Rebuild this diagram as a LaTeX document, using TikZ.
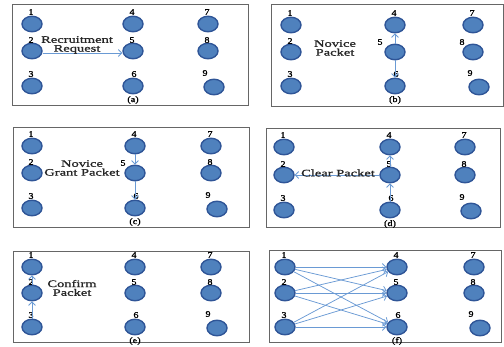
\documentclass[tikz,border=0pt]{standalone}
\usepackage{fontspec}
\setmainfont{Liberation Serif}
\newfontfamily\lf{Liberation Serif}[FakeStretch=1.45,FakeBold=1.2]
\newfontfamily\nf{Liberation Serif}[FakeStretch=1.2,FakeBold=1.2]
\usetikzlibrary{shapes.geometric,arrows.meta}
\definecolor{dotfill}{HTML}{4F81BD}
\definecolor{dotdraw}{HTML}{2F5597}
\definecolor{arr}{HTML}{6A9AD4}
\definecolor{frm}{gray}{0.4}
\tikzset{
  dotnode/.style={ellipse, fill=dotfill, draw=dotdraw, line width=1.4pt,
    minimum width=20pt, minimum height=15.5pt, inner sep=0pt},
  numlabel/.style={font=\nf\fontsize{8.5}{8}\selectfont, inner sep=0pt},
  captext/.style={font=\nf\fontsize{8.5}{8}\selectfont, inner sep=0pt},
  txtlabel/.style={font=\lf\fontsize{10}{8.8}\selectfont, align=center, inner sep=0pt, text=black!85},
  msgarrow/.style={draw=arr, line width=0.75pt, -{Straight Barb[length=3.5pt,width=7pt]}},
  framebox/.style={draw=frm, line width=1pt},
  labfive/.style={}, labeight/.style={},
}
% #1 id, #2 frame NW, #3 frame SE, #4 c1, #5 c2, #6 c3, #7 r1, #8 r2, #9 r3
\newcommand\panel[9]{%
  \draw[framebox] #2 rectangle #3;
  \node[dotnode] (#1-1) at (#4,#7) {};
  \node[dotnode] (#1-2) at (#4,#8) {};
  \node[dotnode] (#1-3) at (#4,#9) {};
  \node[dotnode] (#1-4) at (#5,#7) {};
  \node[dotnode] (#1-5) at (#5,#8) {};
  \node[dotnode] (#1-6) at (#5,#9) {};
  \node[dotnode] (#1-7) at (#6,#7) {};
  \node[dotnode] (#1-8) at (#6,#8) {};
  \node[dotnode] (#1-9) at (#6+6,#9+1) {};
  \node[numlabel] (#1-l1) at (#4-1,#7-12) {1};
  \node[numlabel] (#1-l2) at (#4-1,#8-11) {2};
  \node[numlabel] (#1-l3) at (#4-1,#9-12) {3};
  \node[numlabel] (#1-l4) at (#5-1,#7-12) {4};
  \node[numlabel,labfive] (#1-l5) at (#5-1,#8-11) {5};
  \node[numlabel] (#1-l6) at (#5+1,#9-12) {6};
  \node[numlabel] (#1-l7) at (#6-1,#7-12) {7};
  \node[numlabel,labeight] (#1-l8) at (#6-1,#8-11) {8};
  \node[numlabel] (#1-l9) at (#6-3,#9-13) {9};
  \node[captext] (#1-cap) at (#5,#9+14) {(#1)};
}
\begin{document}
\begin{tikzpicture}[x=1pt,y=-1pt]
\useasboundingbox (0,0) rectangle (504,347);
% (a)
\panel{a}{(12,5)}{(248,106)}{32}{133}{208}{24}{51}{86}
\draw[msgarrow] ([yshift=-2pt]a-2.east) -- ([yshift=-2pt]a-5.west);
\node[txtlabel] (ta) at (77,45) {Recruitment\\Request};
% (b)
\begin{scope}[labfive/.style={xshift=-14pt,yshift=-1pt}, labeight/.style={xshift=-10pt,yshift=-1pt}]
\panel{b}{(271,5)}{(503,107)}{291}{395}{473}{25}{52}{86}
\end{scope}
\draw[msgarrow] (b-5) -- (b-4);
\draw[msgarrow] (b-5) -- (b-6);
\node[txtlabel] (tb) at (335,48) {Novice\\Packet};
% (c)
\begin{scope}[labfive/.style={xshift=-11pt,yshift=-1pt}]
\panel{c}{(13,128)}{(249,228)}{32}{135}{211}{146}{173}{208}
\end{scope}
\draw[msgarrow] (c-4) -- (c-5);
\draw[msgarrow] (c-5) -- (c-6);
\node[txtlabel] (tc) at (82,168) {Novice\\Grant Packet};
% (d)
\panel{d}{(266,129)}{(500,228)}{284}{390}{465}{147}{175}{210}
\draw[msgarrow] (d-6) -- (d-5);
\draw[msgarrow] (d-5) -- (d-4);
\draw[msgarrow] (d-5) -- (d-2);
\node[txtlabel] (td) at (338,173) {Clear Packet};
% (e)
\panel{e}{(13,252)}{(249,343)}{32}{135}{211}{267}{293}{327}
\draw[msgarrow] (e-3) -- (e-2);
\draw[msgarrow] (e-2) -- (e-1);
\node[txtlabel] (te) at (72,288) {Confirm\\Packet};
% (f)
\panel{f}{(269,251)}{(501,343)}{285}{397}{474}{267}{293}{327}
\foreach \s in {1,2,3}{
  \foreach \t in {4,5,6}{
    \draw[msgarrow] (f-\s) -- (f-\t);
  }
}
\end{tikzpicture}
\end{document}
